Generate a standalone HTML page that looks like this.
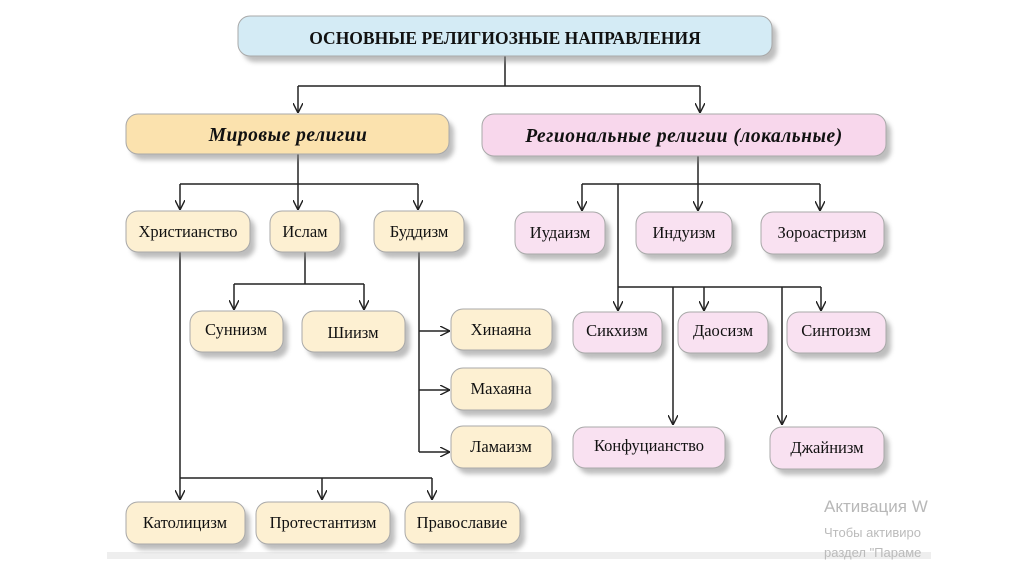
<!DOCTYPE html>
<html><head><meta charset="utf-8"><style>
html,body{margin:0;padding:0;background:#fff;width:1024px;height:574px;overflow:hidden}
svg text{font-family:"Liberation Serif","DejaVu Serif",serif;fill:#111}
</style></head><body>
<svg width="1024" height="574" viewBox="0 0 1024 574" xmlns="http://www.w3.org/2000/svg">
<defs>
<filter id="sh" x="-10%" y="-30%" width="130%" height="180%"><feGaussianBlur stdDeviation="2.5"/></filter>
<marker id="a" viewBox="0 0 10 10" refX="10" refY="5" markerWidth="10" markerHeight="10" orient="auto" markerUnits="userSpaceOnUse"><path d="M0,0 L10,5 L0,10" fill="none" stroke="#222" stroke-width="1.4"/></marker>
</defs>
<rect x="107" y="552" width="825" height="7" fill="#eeeeee"/>
<g stroke="#222" stroke-width="1.5" fill="none">
<path d="M505,56 V86 M298,86 H700"/>
<path d="M298,86 V113" marker-end="url(#a)"/><path d="M700,86 V113" marker-end="url(#a)"/>
<path d="M298,154 V184 M180,184 H418"/>
<path d="M180,184 V210" marker-end="url(#a)"/><path d="M298,184 V210" marker-end="url(#a)"/><path d="M418,184 V210" marker-end="url(#a)"/>
<path d="M305,252 V284 M234,284 H364"/>
<path d="M234,284 V310" marker-end="url(#a)"/><path d="M364,284 V310" marker-end="url(#a)"/>
<path d="M419,252 V452"/>
<path d="M419,331 H450" marker-end="url(#a)"/><path d="M419,390 H450" marker-end="url(#a)"/><path d="M419,452 H450" marker-end="url(#a)"/>
<path d="M180,252 V478 M180,478 H432"/>
<path d="M180,478 V500" marker-end="url(#a)"/><path d="M322,478 V500" marker-end="url(#a)"/><path d="M432,478 V500" marker-end="url(#a)"/>
<path d="M698,156 V184 M582,184 H820"/>
<path d="M582,184 V211" marker-end="url(#a)"/><path d="M698,184 V211" marker-end="url(#a)"/><path d="M820,184 V211" marker-end="url(#a)"/>
<path d="M618,184 V287 M618,287 H821"/>
<path d="M618,287 V311" marker-end="url(#a)"/><path d="M704,287 V311" marker-end="url(#a)"/><path d="M821,287 V311" marker-end="url(#a)"/>
<path d="M673,287 V425" marker-end="url(#a)"/><path d="M782,287 V425" marker-end="url(#a)"/>
</g>
<g fill="#888" opacity="0.55" filter="url(#sh)">
<rect x="243" y="22" width="534" height="40" rx="12"/>
<rect x="131" y="120" width="323" height="40" rx="12"/>
<rect x="487" y="120" width="404" height="42" rx="12"/>
<rect x="131" y="217" width="124" height="41" rx="12"/><rect x="275" y="217" width="70" height="41" rx="12"/><rect x="379" y="217" width="90" height="41" rx="12"/>
<rect x="195" y="317" width="93" height="41" rx="12"/><rect x="307" y="317" width="103" height="41" rx="12"/>
<rect x="456" y="315" width="101" height="41" rx="12"/><rect x="456" y="374" width="101" height="42" rx="12"/><rect x="456" y="432" width="101" height="42" rx="12"/>
<rect x="131" y="508" width="119" height="42" rx="12"/><rect x="261" y="508" width="134" height="42" rx="12"/><rect x="410" y="508" width="115" height="42" rx="12"/>
<rect x="520" y="218" width="90" height="42" rx="12"/><rect x="641" y="218" width="96" height="42" rx="12"/><rect x="766" y="218" width="123" height="42" rx="12"/>
<rect x="578" y="318" width="89" height="41" rx="12"/><rect x="683" y="318" width="90" height="41" rx="12"/><rect x="792" y="318" width="99" height="41" rx="12"/>
<rect x="578" y="433" width="152" height="41" rx="12"/><rect x="775" y="433" width="114" height="42" rx="12"/>
</g>
<g stroke="#a9a9a9" stroke-width="1">
<rect x="238" y="16" width="534" height="40" rx="12" fill="#d4ebf5"/>
<rect x="126" y="114" width="323" height="40" rx="12" fill="#fbe2ae"/>
<rect x="482" y="114" width="404" height="42" rx="12" fill="#f8d7ec"/>
<g fill="#fdf0d2">
<rect x="126" y="211" width="124" height="41" rx="12"/><rect x="270" y="211" width="70" height="41" rx="12"/><rect x="374" y="211" width="90" height="41" rx="12"/>
<rect x="190" y="311" width="93" height="41" rx="12"/><rect x="302" y="311" width="103" height="41" rx="12"/>
<rect x="451" y="309" width="101" height="41" rx="12"/><rect x="451" y="368" width="101" height="42" rx="12"/><rect x="451" y="426" width="101" height="42" rx="12"/>
<rect x="126" y="502" width="119" height="42" rx="12"/><rect x="256" y="502" width="134" height="42" rx="12"/><rect x="405" y="502" width="115" height="42" rx="12"/>
</g>
<g fill="#f9e1f1">
<rect x="515" y="212" width="90" height="42" rx="12"/><rect x="636" y="212" width="96" height="42" rx="12"/><rect x="761" y="212" width="123" height="42" rx="12"/>
<rect x="573" y="312" width="89" height="41" rx="12"/><rect x="678" y="312" width="90" height="41" rx="12"/><rect x="787" y="312" width="99" height="41" rx="12"/>
<rect x="573" y="427" width="152" height="41" rx="12"/><rect x="770" y="427" width="114" height="42" rx="12"/>
</g>
</g>
<g text-anchor="middle" font-size="16.5">
<text x="505" y="44" font-weight="bold" font-size="17.5">ОСНОВНЫЕ РЕЛИГИОЗНЫЕ НАПРАВЛЕНИЯ</text>
<text x="288" y="141" font-weight="bold" font-style="italic" font-size="19.5" letter-spacing="0.5">Мировые религии</text>
<text x="684" y="142" font-weight="bold" font-style="italic" font-size="19.5" letter-spacing="0.5">Региональные религии (локальные)</text>
<text x="188" y="237">Христианство</text><text x="305" y="237">Ислам</text><text x="419" y="237">Буддизм</text>
<text x="236" y="335">Суннизм</text><text x="353" y="338">Шиизм</text>
<text x="501" y="335">Хинаяна</text><text x="501" y="394">Махаяна</text><text x="501" y="452">Ламаизм</text>
<text x="185" y="528">Католицизм</text><text x="323" y="528">Протестантизм</text><text x="462" y="528">Православие</text>
<text x="560" y="238">Иудаизм</text><text x="684" y="238">Индуизм</text><text x="822" y="238">Зороастризм</text>
<text x="617" y="336">Сикхизм</text><text x="723" y="336">Даосизм</text><text x="836" y="336">Синтоизм</text>
<text x="649" y="451">Конфуцианство</text><text x="827" y="453">Джайнизм</text>
</g>
<text x="824" y="512" font-size="17" style="fill:#b8b8b8;font-family:'Liberation Sans',sans-serif">Активация W</text>
<text x="824" y="537" font-size="13" style="fill:#bbb;font-family:'Liberation Sans',sans-serif">Чтобы активиро</text>
<text x="824" y="557" font-size="13" style="fill:#bbb;font-family:'Liberation Sans',sans-serif">раздел "Параме</text>
<rect x="931" y="490" width="93" height="84" fill="#fff"/>
</svg>
</body></html>
